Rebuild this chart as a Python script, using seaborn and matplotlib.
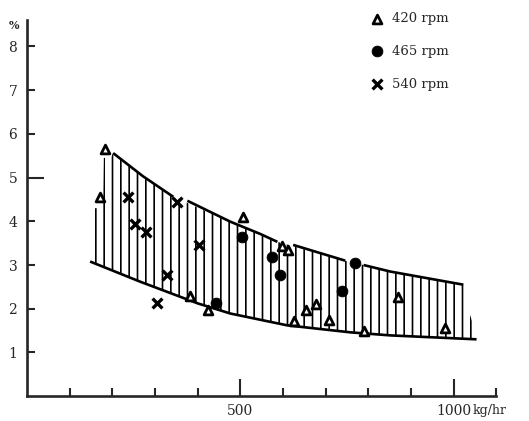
import numpy as np
import pandas as pd
import matplotlib
matplotlib.use('Agg')
import matplotlib.pyplot as plt
import seaborn as sns

# points (x in kg/hr, y in %)
rpm420_x = [171, 183, 383, 425, 507, 599, 613, 627, 655, 678, 707, 789, 869, 979]
rpm420_y = [4.56, 5.65, 2.28, 1.98, 4.10, 3.44, 3.35, 1.71, 1.96, 2.10, 1.75, 1.48, 2.26, 1.55]
rpm465_x = [444, 505, 575, 592, 739, 768]
rpm465_y = [2.14, 3.64, 3.19, 2.78, 2.41, 3.05]
rpm540_x = [237, 254, 279, 305, 329, 352, 404]
rpm540_y = [4.56, 3.94, 3.76, 2.12, 2.78, 4.44, 3.46]

# envelope curves (NaN = break in the drawn line)
upper_x = [202, 272, 343, np.nan, 376, 477, 547, 587, np.nan, 624, 746, np.nan, 789, 852, 1023]
upper_y = [5.56, 5.03, 4.56, np.nan, 4.47, 3.99, 3.71, 3.53, np.nan, 3.46, 3.10, np.nan, 3.00, 2.85, 2.55]
lower_x = [148, 265, 401, 477, 610, 758, 852, 1054]
lower_y = [3.08, 2.62, 2.12, 1.89, 1.62, 1.46, 1.39, 1.30]

# outline of the hatched band
band_x = [148, 265, 401, 477, 610, 758, 852, 1054, 1050, 1046, 1032, 1024,
          852, 746, 587, 477, 343, 272, 202, 196, 180, 178, 160, 152]
band_y = [3.08, 2.62, 2.12, 1.89, 1.62, 1.46, 1.39, 1.30, 1.35, 1.64, 2.05, 2.55,
          2.85, 3.10, 3.53, 3.99, 4.56, 5.03, 5.56, 5.45, 5.45, 4.30, 4.30, 4.30]

sns.set_style('white')
plt.rcParams['font.family'] = ['DejaVu Serif']
plt.rcParams['hatch.linewidth'] = 1.2

fig = plt.figure(figsize=(5.29, 4.21), dpi=100)
ax = fig.add_axes([0.051, 0.059, 0.887, 0.893])

ax.fill(band_x, band_y, facecolor='none', edgecolor='black', hatch='||', linewidth=0)
ax.plot(upper_x, upper_y, color='black', lw=1.9, solid_capstyle='butt')
ax.plot(lower_x, lower_y, color='black', lw=1.9, solid_capstyle='butt')

df420 = pd.DataFrame({'x': rpm420_x, 'y': rpm420_y})
df465 = pd.DataFrame({'x': rpm465_x, 'y': rpm465_y})
df540 = pd.DataFrame({'x': rpm540_x, 'y': rpm540_y})
sns.scatterplot(data=df420, x='x', y='y', ax=ax, marker='^', s=40, facecolor='white',
                edgecolor='black', linewidth=2, label='420 rpm', zorder=5)
sns.scatterplot(data=df465, x='x', y='y', ax=ax, marker='o', s=60, color='black',
                edgecolor='black', label='465 rpm', zorder=5)
sns.scatterplot(data=df540, x='x', y='y', ax=ax, marker='x', s=50, color='black',
                linewidth=2.4, label='540 rpm', zorder=5)

ax.set_xlim(0, 1100)
ax.set_ylim(0, 8.6)
ax.set_xlabel('')
ax.set_ylabel('')

ax.set_xticks([500, 1000])
ax.set_xticks([100, 200, 300, 400, 600, 700, 800, 900, 1100], minor=True)
ax.set_yticks([1, 2, 3, 4, 5, 6, 7, 8])
ax.tick_params(axis='x', which='major', direction='in', length=12, width=1.5, pad=6, labelsize=10)
ax.tick_params(axis='x', which='minor', direction='in', length=6, width=1.5)
ax.tick_params(axis='y', which='major', direction='in', length=6, width=1.5, pad=7, labelsize=10)
ax.tick_params(bottom=True, left=True, which='both')
ax.yaxis.get_major_ticks()[4].tick1line.set_markersize(12)

sns.despine(ax=ax)
for side in ['left', 'bottom']:
    ax.spines[side].set_linewidth(1.9)

fig.text(0.017, 0.93, '%', fontsize=8, fontweight='bold')
fig.text(0.893, 0.026, 'kg/hr', fontsize=9, va='center')

ax.legend(loc='upper left', bbox_to_anchor=(0.686, 0.987), bbox_transform=fig.transFigure,
          frameon=False, labelspacing=1.5, handletextpad=0.5, borderpad=0,
          handlelength=1.2, fontsize=9.5)

fig.savefig('out.png', dpi=100)
